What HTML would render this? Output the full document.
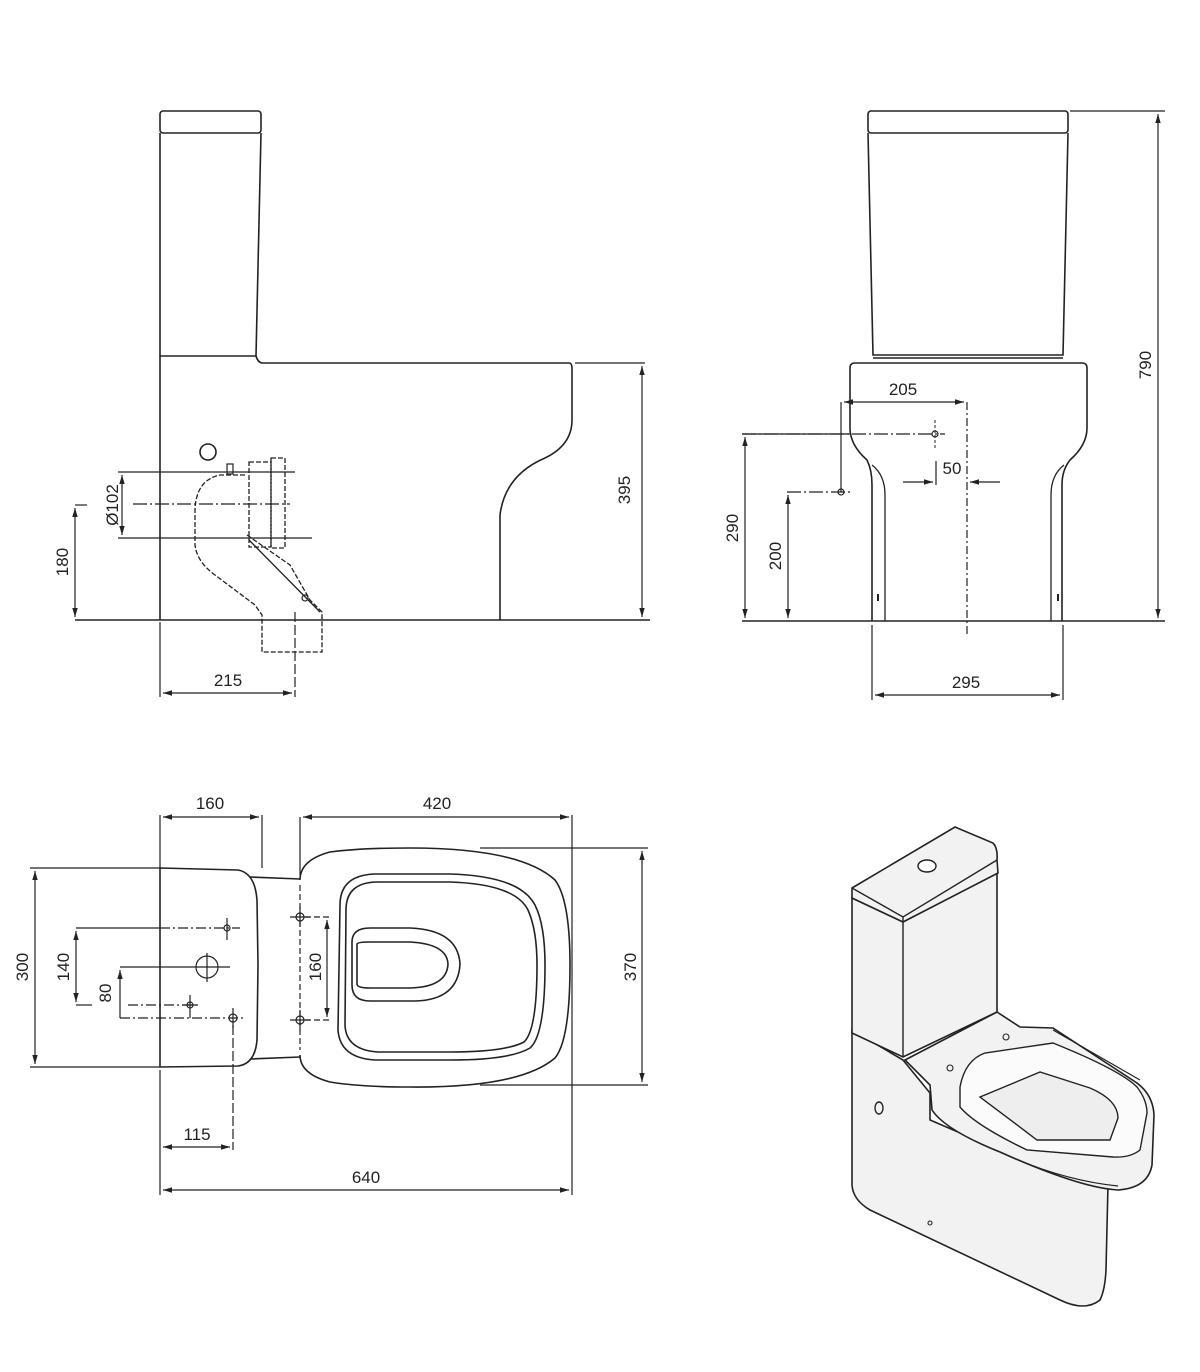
<!DOCTYPE html>
<html><head><meta charset="utf-8"><style>html,body{margin:0;padding:0;background:#fff}svg{display:block}text{font-family:"Liberation Sans",sans-serif;font-size:17px;fill:#222}</style></head><body>
<svg width="1200" height="1372" viewBox="0 0 1200 1372" xmlns="http://www.w3.org/2000/svg">
<defs>
<marker id="a" viewBox="0 0 10 10" refX="10" refY="5" markerWidth="9" markerHeight="9" orient="auto-start-reverse" markerUnits="userSpaceOnUse"><path d="M0,2 L10,5 L0,8 z" fill="#222"/></marker>
</defs>
<g fill="none" stroke="#222" stroke-width="1.6">
<!-- SIDE VIEW -->
<rect x="160" y="111" width="101" height="22" rx="3"/>
<path d="M160,133 L160,356 L256,356 L261,133"/>
<path d="M160,356 L160,620"/>
<path d="M256,356 Q258,363 263,363 L569,363 Q572,363 572,368 L572,420 Q572,445 545,458 Q505,475 500,515 L500,620"/>
<line x1="75" y1="620" x2="650" y2="620"/>
<line x1="575" y1="363" x2="645" y2="363" stroke-width="1.2"/>
<line x1="642" y1="366" x2="642" y2="617" stroke-width="1.2" marker-start="url(#a)" marker-end="url(#a)"/>
<circle cx="208" cy="452" r="8"/>
<g stroke-width="1.3" stroke-dasharray="5,2">
<path d="M245,475 L220,475 Q196,480 195,510 L195,545 Q197,562 215,575 L255,605 L262,615 L262,652 L322,652 L322,612 L310,600 L290,565 L247,535"/>
<rect x="249" y="462" width="22" height="85"/>
<rect x="271" y="458" width="14" height="90"/>
</g>
<path d="M249,540 L320,612" stroke-width="1.3"/>
<circle cx="305" cy="598" r="3" stroke-width="1.2"/>
<rect x="227" y="464" width="6" height="10" stroke-width="1.2"/>
<line x1="118" y1="472" x2="295" y2="472" stroke-width="1.2"/>
<line x1="118" y1="538" x2="312" y2="538" stroke-width="1.2"/>
<line x1="133" y1="504" x2="290" y2="504" stroke-width="1.2" stroke-dasharray="14,3,2,3"/>
<line x1="122" y1="475" x2="122" y2="535" stroke-width="1.2" marker-start="url(#a)" marker-end="url(#a)"/>
<line x1="75" y1="505" x2="87" y2="505" stroke-width="1.2"/>
<line x1="75" y1="508" x2="75" y2="617" stroke-width="1.2" marker-start="url(#a)" marker-end="url(#a)"/>
<line x1="160" y1="622" x2="160" y2="697" stroke-width="1.2"/>
<line x1="295" y1="612" x2="295" y2="697" stroke-width="1.2" stroke-dasharray="10,3"/>
<line x1="163" y1="693" x2="292" y2="693" stroke-width="1.2" marker-start="url(#a)" marker-end="url(#a)"/>

<!-- FRONT VIEW -->
<rect x="868" y="111" width="200" height="22" rx="3"/>
<path d="M868,133 L873,355 L1063,355 L1068,133"/>
<line x1="873" y1="358" x2="1063" y2="358"/>
<path d="M855,363 L1082,363 Q1087,363 1087,368 L1087,428 Q1087,445 1070,460 Q1062,470 1062,485 L1062,621 M855,363 Q850,363 850,368 L850,428 Q850,445 867,460 Q872,470 872,485 L872,621"/>
<path d="M885,621 L885,495 Q885,475 872,465 M1051,621 L1051,495 Q1051,475 1064,465" stroke-width="1.3"/>
<line x1="878" y1="594" x2="878" y2="601" stroke-width="2"/>
<line x1="1058" y1="594" x2="1058" y2="601" stroke-width="2"/>
<line x1="742" y1="621" x2="1165" y2="621"/>
<line x1="1070" y1="111" x2="1165" y2="111" stroke-width="1.2"/>
<line x1="1158" y1="114" x2="1158" y2="618" stroke-width="1.2" marker-start="url(#a)" marker-end="url(#a)"/>
<line x1="872" y1="625" x2="872" y2="700" stroke-width="1.2"/>
<line x1="1063" y1="625" x2="1063" y2="700" stroke-width="1.2"/>
<line x1="875" y1="695" x2="1060" y2="695" stroke-width="1.2" marker-start="url(#a)" marker-end="url(#a)"/>
<line x1="841" y1="402" x2="841" y2="492" stroke-width="1.2"/>
<line x1="844" y1="402" x2="964" y2="402" stroke-width="1.2" marker-start="url(#a)" marker-end="url(#a)"/>
<line x1="967" y1="402" x2="967" y2="637" stroke-width="1.2" stroke-dasharray="8,3,2,3"/>
<line x1="742" y1="434" x2="945" y2="434" stroke-width="1.2" stroke-dasharray="14,3,2,3"/>
<line x1="742" y1="434" x2="850" y2="434" stroke-width="1.2"/>
<circle cx="935" cy="434" r="3" stroke-width="1.2"/>
<line x1="935" y1="420" x2="935" y2="448" stroke-width="1" stroke-dasharray="3,2"/>
<line x1="745" y1="437" x2="745" y2="618" stroke-width="1.2" marker-start="url(#a)" marker-end="url(#a)"/>
<line x1="787" y1="492" x2="850" y2="492" stroke-width="1.2" stroke-dasharray="14,3,2,3"/>
<circle cx="841" cy="492" r="3" stroke-width="1.2"/>
<line x1="788" y1="495" x2="788" y2="618" stroke-width="1.2" marker-start="url(#a)" marker-end="url(#a)"/>
<line x1="903" y1="482" x2="933" y2="482" stroke-width="1.2" marker-end="url(#a)"/>
<line x1="936" y1="461" x2="936" y2="485" stroke-width="1.2"/>
<line x1="1000" y1="482" x2="970" y2="482" stroke-width="1.2" marker-end="url(#a)"/>

<!-- PLAN VIEW -->
<path d="M160,868 L238,870 Q255,873 257,900 L258,965 L257,1040 Q255,1064 238,1066 L160,1067 Z"/>
<path d="M250,877 L300,879 M250,1059 L300,1057"/>
<path d="M300,880 Q300,860 330,852 Q360,848 410,848 Q520,848 555,880 Q570,900 570,965 Q570,1040 555,1058 Q520,1088 410,1087 Q360,1087 330,1082 Q300,1074 300,1055"/>
<path d="M340,905 Q340,875 375,874 L450,874 Q520,876 535,905 Q545,925 545,965 Q545,1035 530,1048 Q510,1060 450,1060 L375,1060 Q340,1058 338,1030 Z"/>
<path d="M346,910 Q346,882 378,882 L450,882 Q515,884 528,910 Q537,930 537,965 Q537,1030 524,1042 Q505,1052 450,1052 L378,1052 Q346,1050 345,1025 Z"/>
<path d="M352,942 Q352,928 370,928 L410,928 Q458,930 460,964 Q458,1000 415,1001 L370,1001 Q352,1001 352,985 Z"/>
<path d="M357,944 Q357,942 370,942 L410,942 Q447,944 448,964 Q447,987 410,988 L370,988 Q357,988 357,984 Z"/>
<g stroke-width="1.2">
<line x1="160" y1="815" x2="160" y2="868"/><line x1="262" y1="815" x2="262" y2="868"/>
<line x1="163" y1="817" x2="259" y2="817" marker-start="url(#a)" marker-end="url(#a)"/>
<line x1="300" y1="817" x2="300" y2="875"/><line x1="572" y1="815" x2="572" y2="1195"/>
<line x1="303" y1="817" x2="569" y2="817" marker-start="url(#a)" marker-end="url(#a)"/>
<line x1="480" y1="848" x2="648" y2="848"/><line x1="480" y1="1085" x2="648" y2="1085"/>
<line x1="642" y1="851" x2="642" y2="1082" marker-start="url(#a)" marker-end="url(#a)"/>
<line x1="30" y1="868" x2="160" y2="868"/><line x1="30" y1="1067" x2="160" y2="1067"/>
<line x1="35" y1="871" x2="35" y2="1064" marker-start="url(#a)" marker-end="url(#a)"/>
<line x1="160" y1="1070" x2="160" y2="1195"/>
<line x1="233" y1="1025" x2="233" y2="1150" stroke-dasharray="10,3"/>
<line x1="163" y1="1147" x2="230" y2="1147" marker-start="url(#a)" marker-end="url(#a)"/>
<line x1="163" y1="1190" x2="569" y2="1190" marker-start="url(#a)" marker-end="url(#a)"/>
<line x1="76" y1="928" x2="160" y2="928"/><line x1="76" y1="1005" x2="92" y2="1005"/>
<line x1="160" y1="928" x2="240" y2="928" stroke-dasharray="10,3,2,3"/>
<line x1="76" y1="931" x2="76" y2="1002" marker-start="url(#a)" marker-end="url(#a)"/>
<line x1="120" y1="967" x2="230" y2="967"/>
<line x1="120" y1="1018" x2="245" y2="1018" stroke-dasharray="10,3,2,3"/>
<line x1="128" y1="1005" x2="200" y2="1005" stroke-dasharray="10,3,2,3"/>
<line x1="120" y1="970" x2="120" y2="1018" marker-start="url(#a)"/>
<line x1="300" y1="885" x2="300" y2="1050" stroke-dasharray="6,3"/>
<line x1="305" y1="917" x2="330" y2="917" stroke-dasharray="6,3"/><line x1="305" y1="1020" x2="330" y2="1020" stroke-dasharray="6,3"/>
<line x1="327" y1="920" x2="327" y2="1017" marker-start="url(#a)" marker-end="url(#a)"/>
</g>
<g stroke-width="1.2">
<circle cx="227" cy="928" r="3"/><line x1="227" y1="918" x2="227" y2="940"/>
<circle cx="207" cy="967" r="11"/><line x1="207" y1="953" x2="207" y2="982"/>
<circle cx="190" cy="1005" r="3"/><line x1="190" y1="995" x2="190" y2="1018"/><line x1="182" y1="1005" x2="198" y2="1005"/>
<circle cx="233" cy="1018" r="4"/><line x1="233" y1="1008" x2="233" y2="1028"/>
<circle cx="300" cy="917" r="4"/><line x1="290" y1="917" x2="310" y2="917"/><line x1="300" y1="907" x2="300" y2="927"/>
<circle cx="300" cy="1020" r="4"/><line x1="290" y1="1020" x2="310" y2="1020"/><line x1="300" y1="1010" x2="300" y2="1030"/>
</g>

<!-- ISOMETRIC -->
<g stroke-width="1.6" fill="#f2f2f2">
<!-- lower body (side + pedestal) -->
<path d="M852,1030 L852,1185 Q853,1200 870,1210 L1060,1300 Q1085,1312 1100,1300 Q1105,1290 1106,1270 L1108,1185 L1000,1150 L930,1120 L930,1093 L903,1060 Z"/>
<!-- bowl outer -->
<path d="M905,1060 L997,1012 L1020,1027 L1053,1028 L1137,1083 Q1153,1095 1154,1115 L1152,1165 Q1148,1188 1118,1190 Q1080,1188 1000,1152 Q945,1130 932,1110 L930,1085 Z"/>
<!-- tank body -->
<path d="M852,898 L852,1033 L903,1057 L997,1012 L997,873 L903,922 Z"/>
<!-- lid -->
<path d="M852,888 L955,827 L993,843 Q998,848 997,860 L998,873 L903,922 L852,898 Z"/>
</g>
<g stroke-width="1.4">
<path d="M852,888 L903,917 L997,860 M903,917 L903,1057"/>
<path d="M960,1087 Q965,1060 985,1053 L1053,1043 Q1120,1070 1137,1087 Q1147,1100 1147,1113 L1140,1150 Q1130,1158 1113,1157 L1027,1150 Q975,1125 960,1107 Z" fill="#fbfbfb"/>
<path d="M980,1097 L1040,1072 L1090,1088 Q1118,1100 1118,1118 L1110,1140 L1037,1140 Z" fill="#eeeeee"/>
</g>
<g stroke-width="1.2">
<path d="M1000,1152 Q1060,1180 1118,1186 M1053,1030 L1140,1080"/>
</g>
<ellipse cx="927" cy="866" rx="9" ry="6" fill="#fff" stroke-width="1.4"/>
<ellipse cx="879" cy="1108" rx="4" ry="6" stroke-width="1.4"/>
<circle cx="950" cy="1068" r="3" stroke-width="1.1"/><circle cx="1006" cy="1037" r="3" stroke-width="1.1"/>
<circle cx="930" cy="1223" r="2" stroke-width="1.1"/>
</g>
<g>
<text x="630" y="490" transform="rotate(-90 630 490)" text-anchor="middle">395</text>
<text x="118" y="505" transform="rotate(-90 118 505)" text-anchor="middle">Ø102</text>
<text x="68" y="562" transform="rotate(-90 68 562)" text-anchor="middle">180</text>
<text x="228" y="686" text-anchor="middle">215</text>
<text x="903" y="395" text-anchor="middle">205</text>
<text x="952" y="474" text-anchor="middle">50</text>
<text x="738" y="528" transform="rotate(-90 738 528)" text-anchor="middle">290</text>
<text x="781" y="556" transform="rotate(-90 781 556)" text-anchor="middle">200</text>
<text x="1151" y="365" transform="rotate(-90 1151 365)" text-anchor="middle">790</text>
<text x="966" y="688" text-anchor="middle">295</text>
<text x="210" y="809" text-anchor="middle">160</text>
<text x="437" y="809" text-anchor="middle">420</text>
<text x="28" y="967" transform="rotate(-90 28 967)" text-anchor="middle">300</text>
<text x="69" y="967" transform="rotate(-90 69 967)" text-anchor="middle">140</text>
<text x="111" y="993" transform="rotate(-90 111 993)" text-anchor="middle">80</text>
<text x="321" y="967" transform="rotate(-90 321 967)" text-anchor="middle">160</text>
<text x="636" y="967" transform="rotate(-90 636 967)" text-anchor="middle">370</text>
<text x="197" y="1140" text-anchor="middle">115</text>
<text x="366" y="1183" text-anchor="middle">640</text>
</g>
</svg>
</body></html>
